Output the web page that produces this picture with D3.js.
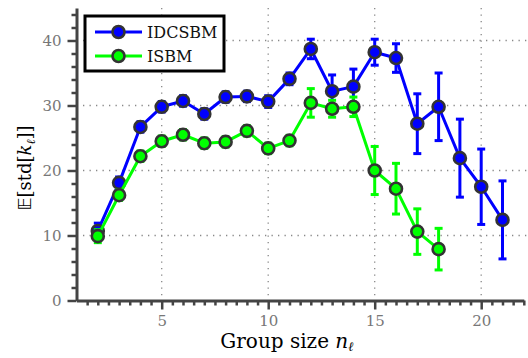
<!DOCTYPE html>
<html>
<head>
<meta charset="utf-8">
<script src="https://cdn.jsdelivr.net/npm/d3@7"></script>
<style>
  body { margin: 0; background: #fff; }
</style>
</head>
<body>
<div id="chart"></div>
<script>
// chart values
let groupSizes = [2, 3, 4, 5, 6, 7, 8, 9, 10, 11, 12, 13, 14, 15, 16, 17, 18, 19, 20, 21];
let idcsbmMean = [10.7, 18.1, 26.7, 29.8, 30.7, 28.7, 31.3, 31.4, 30.6, 34.1, 38.7, 32.2, 32.9, 38.2, 37.3, 27.2, 29.8, 21.9, 17.5, 12.4];
let idcsbmErr  = [1.2, 0.9, 0.8, 0.8, 0.8, 0.8, 0.8, 0.8, 0.9, 0.9, 1.5, 2.5, 2.7, 2.0, 2.2, 4.6, 5.2, 6.0, 5.8, 6.0];
let isbmSizes = [2, 3, 4, 5, 6, 7, 8, 9, 10, 11, 12, 13, 14, 15, 16, 17, 18];
let isbmMean  = [9.9, 16.2, 22.2, 24.5, 25.5, 24.2, 24.4, 26.1, 23.4, 24.6, 30.4, 29.5, 29.8, 20.0, 17.2, 10.6, 7.9];
let isbmErr   = [1.0, 0.8, 0.8, 0.8, 0.8, 0.8, 0.8, 0.8, 0.8, 0.8, 2.2, 1.3, 1.5, 3.7, 3.9, 3.5, 3.2];
let xTicks = [5, 10, 15, 20];
let yTicks = [0, 10, 20, 30, 40];

let series = [
  { name: "IDCSBM", color: "#0000ff", xs: groupSizes, ys: idcsbmMean, es: idcsbmErr },
  { name: "ISBM", color: "#00ff00", xs: isbmSizes, ys: isbmMean, es: isbmErr }
];

let serif = "'DejaVu Serif', 'Liberation Serif', serif";

let svgWidth = 528;
let svgHeight = 358;

let svg = d3.select("#chart")
  .append("svg")
  .attr("width", svgWidth)
  .attr("height", svgHeight);

// scales
let x = d3.scaleLinear().domain([1, 22]).range([76.5, 523.8]);
let y = d3.scaleLinear().domain([0, 45]).range([300.5, 8]);

let axisColor = "#444";

// grid
let grid = svg.append("g");
grid.selectAll("line.gx")
  .data(xTicks)
  .join("line")
  .attr("x1", d => x(d)).attr("x2", d => x(d))
  .attr("y1", y(45)).attr("y2", y(0))
  .attr("stroke", "#888").attr("stroke-width", 1.3)
  .attr("stroke-dasharray", "1.3,5.2");
grid.selectAll("line.gy")
  .data(yTicks.filter(d => d > 0))
  .join("line")
  .attr("x1", x(1)).attr("x2", svgWidth)
  .attr("y1", d => y(d)).attr("y2", d => y(d))
  .attr("stroke", "#888").attr("stroke-width", 1.3)
  .attr("stroke-dasharray", "1.3,5.2");

// x axis
svg.append("g")
  .attr("transform", `translate(0, ${y(0)})`)
  .call(d3.axisBottom(x).tickValues(xTicks).tickSize(9).tickPadding(6).tickSizeOuter(0));
svg.append("g")
  .attr("transform", `translate(0, ${y(0)})`)
  .call(d3.axisBottom(x).tickValues(d3.range(1.5, 22.01, 0.5).filter(d => d % 5 !== 0)).tickSize(5).tickFormat("").tickSizeOuter(0))
  .call(g => g.select(".domain").remove());

// y axis
svg.append("g")
  .attr("transform", `translate(${x(1)}, 0)`)
  .call(d3.axisLeft(y).tickValues(yTicks).tickSize(9).tickPadding(6).tickSizeOuter(0));
svg.append("g")
  .attr("transform", `translate(${x(1)}, 0)`)
  .call(d3.axisLeft(y).tickValues(d3.range(2, 45, 2).filter(d => d % 10 !== 0)).tickSize(5).tickFormat("").tickSizeOuter(0))
  .call(g => g.select(".domain").remove());

svg.selectAll(".domain").attr("stroke", axisColor).attr("stroke-width", 3);
svg.selectAll(".tick line").attr("stroke", axisColor).attr("stroke-width", 2.5);
svg.selectAll(".tick text")
  .attr("fill", "#777")
  .style("font-family", serif)
  .style("font-size", "15px");

// series
let line = d3.line().x(d => x(d[0])).y(d => y(d[1]));

series.forEach(s => {
  let pts = s.xs.map((xv, i) => [xv, s.ys[i], s.es[i]]);
  let g = svg.append("g");

  g.append("path")
    .datum(pts)
    .attr("d", line)
    .attr("fill", "none")
    .attr("stroke", s.color)
    .attr("stroke-width", 3)
    .attr("stroke-linejoin", "round");

  // error bars
  g.selectAll("line.err")
    .data(pts)
    .join("line")
    .attr("x1", d => x(d[0])).attr("x2", d => x(d[0]))
    .attr("y1", d => y(d[1] - d[2])).attr("y2", d => y(d[1] + d[2]))
    .attr("stroke", s.color).attr("stroke-width", 3);
  ["cap1", "cap2"].forEach((c, k) => {
    g.selectAll("line." + c)
      .data(pts)
      .join("line")
      .attr("x1", d => x(d[0]) - 4).attr("x2", d => x(d[0]) + 4)
      .attr("y1", d => y(d[1] + (k ? 1 : -1) * d[2]))
      .attr("y2", d => y(d[1] + (k ? 1 : -1) * d[2]))
      .attr("stroke", s.color).attr("stroke-width", 3);
  });

  g.selectAll("circle")
    .data(pts)
    .join("circle")
    .attr("cx", d => x(d[0]))
    .attr("cy", d => y(d[1]))
    .attr("r", 6)
    .attr("fill", s.color)
    .attr("stroke", "#333")
    .attr("stroke-width", 2.6);
});

// legend
let legend = svg.append("g");
legend.append("rect")
  .attr("x", 85).attr("y", 16)
  .attr("width", 139).attr("height", 55)
  .attr("fill", "#fff")
  .attr("stroke", "#000")
  .attr("stroke-width", 3);

series.forEach((s, i) => {
  let ly = 32 + i * 24;
  legend.append("line")
    .attr("x1", 95).attr("x2", 142)
    .attr("y1", ly).attr("y2", ly)
    .attr("stroke", s.color).attr("stroke-width", 3);
  legend.append("circle")
    .attr("cx", 118.5).attr("cy", ly).attr("r", 6)
    .attr("fill", s.color).attr("stroke", "#333").attr("stroke-width", 2.6);
  legend.append("text")
    .attr("x", 147).attr("y", ly + 6)
    .style("font-family", serif)
    .style("font-size", "16px")
    .attr("fill", "#111")
    .text(s.name);
});

// axis labels
let xLabel = svg.append("text")
  .attr("x", 287).attr("y", 348)
  .attr("text-anchor", "middle")
  .style("font-family", serif)
  .style("font-size", "20px")
  .attr("fill", "#000");
xLabel.append("tspan").text("Group size ");
xLabel.append("tspan").attr("font-style", "italic").text("n");
xLabel.append("tspan").style("font-size", "13px").attr("dy", 3).attr("font-style", "italic").text("ℓ");

let yLabel = svg.append("text")
  .attr("transform", "translate(31, 168) rotate(-90)")
  .attr("text-anchor", "middle")
  .style("font-family", serif)
  .style("font-size", "18px")
  .attr("fill", "#000");
yLabel.append("tspan").style("font-family", "'DejaVu Sans', sans-serif").text("𝔼");
yLabel.append("tspan").text("[std[");
yLabel.append("tspan").attr("font-style", "italic").text("k");
yLabel.append("tspan").style("font-size", "12px").attr("dy", 4).attr("font-style", "italic").text("ℓ");
yLabel.append("tspan").attr("dy", -4).text("]]");
</script>
</body>
</html>
